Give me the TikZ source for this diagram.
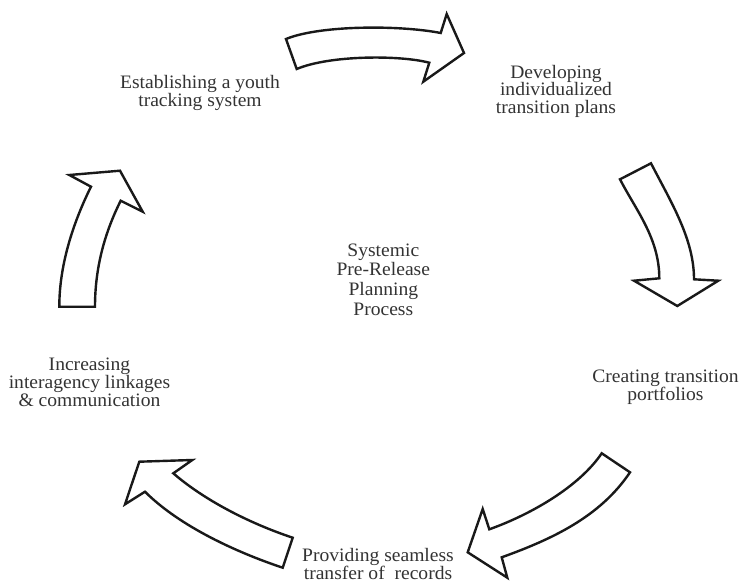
\documentclass[tikz,border=0pt]{standalone}
\usepackage{fontspec}
\setmainfont{Liberation Serif}[FakeStretch=1.03]
\begin{document}
\begin{tikzpicture}[x=1pt,y=-1pt,
  lbl/.style={align=center,anchor=base,inner sep=0pt,text=black!80,font=\fontsize{19}{17.3}\selectfont},
  mid/.style={lbl,font=\fontsize{19}{19.9}\selectfont},
  cyc/.style={draw=black!90,line width=2.4pt,line join=miter,fill=white}]
\useasboundingbox (0,0) rectangle (741,583);
% arrows
\draw[cyc] (286,39) .. controls (320,25) and (400,25) .. (440.7,33) -- (446.7,14) -- (464,53) -- (423.3,81.7) -- (429.3,62.7)
  .. controls (400,55) and (330,55) .. (296.7,69) -- cycle;
\draw[cyc] (620,179.3) .. controls (636.1,210.5) and (659.3,238.3) .. (659.3,278.3) -- (634,280.7) -- (677.3,306) -- (718.3,280.7) -- (694,279.3)
  .. controls (694,239.3) and (671.7,203.4) .. (651,163.3) -- cycle;
\draw[cyc] (601.7,453.3) .. controls (579.3,486.5) and (531.3,514.3) .. (489.3,529.3) -- (482.7,509) -- (467.7,552.3) -- (507.3,577.7) -- (501.7,557.3)
  .. controls (551.7,539.3) and (600,517) .. (630,472.3) -- cycle;
\draw[cyc] (292.7,537.7) .. controls (247.7,522.7) and (203.3,499.3) .. (173.3,473.3) -- (192.3,460) -- (139.3,461.7) -- (125,504.3) -- (145,491.7)
  .. controls (180,526.7) and (237.7,552.7) .. (282.7,567.7) -- cycle;
\draw[cyc] (59.3,306.7) .. controls (59.3,261.7) and (75.4,218) .. (91,186.7) -- (69.3,175) -- (120,170.7) -- (142.7,211.7) -- (120.7,200.7)
  .. controls (105.1,232) and (95,266.7) .. (95,306.7) -- cycle;
% labels (anchor = baseline of the last line)
\node[lbl,font=\fontsize{19}{18.3}\selectfont] (track) at (200,106.7) {Establishing a youth\\tracking system};
\node[lbl] (plans) at (556,113.3) {Developing\\individualized\\transition plans};
\node[lbl] (port) at (665.5,400.7) {Creating transition\\portfolios};
\node[lbl] (rec) at (378,579.5) {Providing seamless\\transfer of\ \ records};
\node[lbl,font=\fontsize{19}{16.7}\selectfont] (link) at (89.5,406.7) {Increasing\\interagency linkages\\\& communication};
\node[mid] (center) at (383.3,315.7) {Systemic\\Pre-Release\\Planning\\Process};
\end{tikzpicture}
\end{document}
